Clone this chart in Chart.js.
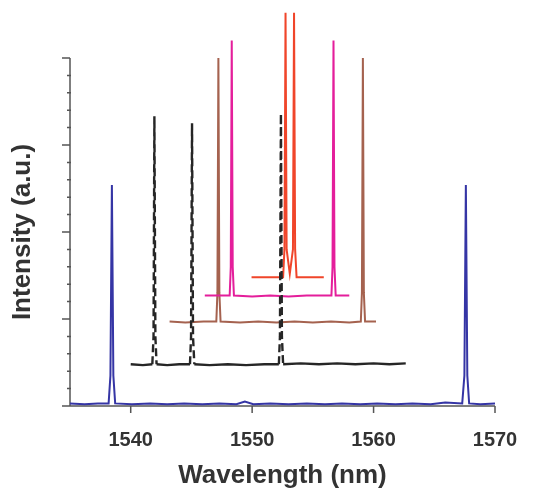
<!DOCTYPE html>
<html>
<head>
<meta charset="utf-8">
<script src="https://cdn.jsdelivr.net/npm/chart.js@4/dist/chart.umd.min.js"></script>
<style>
  html, body { margin: 0; padding: 0; background: #fff; }
  #wrap { width: 534px; height: 497px; }
</style>
</head>
<body>
<div id="wrap"><canvas id="c" width="534" height="497"></canvas></div>
<script>
// tick labels
const xTicks = [1540, 1550, 1560, 1570];
const yMajor = [0, 1, 2, 3, 4];

// blue trace (bottom)
const blueWl = [1535, 1536.2, 1537.3, 1538.18, 1538.33, 1538.45, 1538.57, 1538.72, 1540.1, 1541.6, 1543.0, 1544.4, 1545.9, 1547.3, 1548.7, 1549.4, 1550.1, 1551.5, 1553.0, 1554.5, 1556.0, 1557.4, 1558.9, 1560.3, 1561.8, 1563.2, 1564.7, 1565.9, 1567.3, 1567.48, 1567.6, 1567.72, 1567.87, 1568.8, 1570];
const blueInt = [0.03, 0.02, 0.03, 0.03, 0.35, 2.54, 0.35, 0.03, 0.02, 0.03, 0.02, 0.03, 0.02, 0.03, 0.02, 0.05, 0.02, 0.03, 0.02, 0.03, 0.02, 0.03, 0.02, 0.03, 0.02, 0.03, 0.02, 0.04, 0.03, 0.35, 2.54, 0.35, 0.03, 0.02, 0.03];

// black trace (dashed peaks)
const blackWl = [1540.0, 1541.0, 1541.78, 1541.88, 1541.95, 1542.03, 1542.13, 1543.0, 1544.0, 1544.88, 1544.97, 1545.05, 1545.13, 1545.24, 1546.5, 1548.0, 1549.5, 1551.0, 1552.2, 1552.29, 1552.37, 1552.45, 1552.55, 1554.0, 1555.5, 1557.0, 1558.5, 1560.0, 1561.3, 1562.65];
const blackInt = [0.48, 0.47, 0.48, 0.8, 3.33, 0.8, 0.48, 0.47, 0.48, 0.48, 0.8, 3.25, 0.8, 0.48, 0.47, 0.48, 0.47, 0.48, 0.48, 0.8, 3.36, 0.8, 0.48, 0.49, 0.48, 0.49, 0.48, 0.49, 0.48, 0.49];

// brown trace
const brownWl = [1543.2, 1544.5, 1546.0, 1547.05, 1547.14, 1547.22, 1547.3, 1547.4, 1549.0, 1550.5, 1552.0, 1553.5, 1555.0, 1556.5, 1558.0, 1558.95, 1559.04, 1559.12, 1559.2, 1559.3, 1560.2];
const brownInt = [0.97, 0.96, 0.97, 0.97, 1.3, 4.0, 1.3, 0.97, 0.96, 0.97, 0.96, 0.97, 0.96, 0.97, 0.96, 0.97, 1.3, 4.0, 1.3, 0.97, 0.97];

// magenta trace
const magWl = [1546.1, 1547.2, 1548.15, 1548.24, 1548.32, 1548.4, 1548.5, 1550.0, 1551.5, 1553.0, 1554.5, 1556.0, 1556.53, 1556.62, 1556.7, 1556.78, 1556.88, 1558.0];
const magInt = [1.27, 1.27, 1.27, 1.6, 4.2, 1.6, 1.27, 1.26, 1.27, 1.26, 1.27, 1.27, 1.27, 1.6, 4.2, 1.6, 1.27, 1.27];

// red trace
const redWl = [1549.95, 1551.2, 1552.55, 1552.66, 1552.75, 1552.84, 1553.1, 1553.36, 1553.45, 1553.54, 1553.66, 1554.8, 1555.9];
const redInt = [1.48, 1.48, 1.48, 1.8, 4.52, 1.8, 1.52, 1.8, 4.52, 1.8, 1.48, 1.48, 1.48];

const toPts = (xs, ys) => xs.map((v, i) => ({ x: v, y: ys[i] }));

const axesPlugin = {
  id: 'axesLines',
  beforeDatasetsDraw(chart) {
    const { ctx, scales: { x, y } } = chart;
    const y0 = y.getPixelForValue(yMajor[0]);
    const yTop = y.getPixelForValue(yMajor[yMajor.length - 1]);
    ctx.save();
    ctx.strokeStyle = '#555';
    ctx.lineWidth = 1.5;
    ctx.beginPath();
    ctx.moveTo(x.left, yTop);
    ctx.lineTo(x.left, y0);
    ctx.lineTo(x.getPixelForValue(1570), y0);
    // y ticks: major outward, minor short
    for (let i = 0; i < yMajor.length; i++) {
      const py = y.getPixelForValue(yMajor[i]);
      ctx.moveTo(x.left - 8, py);
      ctx.lineTo(x.left, py);
      if (i < yMajor.length - 1) {
        for (let k = 1; k < 5; k++) {
          const pm = y.getPixelForValue(yMajor[i] + k * 0.2);
          ctx.moveTo(x.left - 3, pm);
          ctx.lineTo(x.left + 1, pm);
        }
      }
    }
    // x ticks downward
    xTicks.forEach(v => {
      const px = x.getPixelForValue(v);
      ctx.moveTo(px, y0);
      ctx.lineTo(px, y0 + 7);
    });
    ctx.stroke();
    ctx.restore();
  }
};

const steepDash = ctx => Math.abs(ctx.p1.parsed.y - ctx.p0.parsed.y) > 0.2 ? [8, 4] : undefined;

new Chart(document.getElementById('c'), {
  type: 'line',
  data: {
    datasets: [
      { label: 'black', data: toPts(blackWl, blackInt), borderColor: '#262626', borderWidth: 2.4, order: 0,
        segment: { borderDash: steepDash } },
      { label: 'red', data: toPts(redWl, redInt), borderColor: '#f0452a', borderWidth: 2, order: 1 },
      { label: 'magenta', data: toPts(magWl, magInt), borderColor: '#e41e9b', borderWidth: 2, order: 2 },
      { label: 'brown', data: toPts(brownWl, brownInt), borderColor: '#a5624f', borderWidth: 2, order: 3 },
      { label: 'blue', data: toPts(blueWl, blueInt), borderColor: '#3535a5', borderWidth: 2, order: 4 }
    ]
  },
  options: {
    responsive: false,
    animation: false,
    layout: { padding: { top: 58, right: 39, left: 0, bottom: 0 } },
    elements: { point: { radius: 0 }, line: { tension: 0, borderCapStyle: 'butt' } },
    datasets: { line: { clip: { left: 0, top: 50, right: 0, bottom: 0 } } },
    plugins: { legend: { display: false }, tooltip: { enabled: false } },
    scales: {
      x: {
        type: 'linear',
        min: 1535,
        max: 1570,
        afterBuildTicks: s => { s.ticks = xTicks.map(v => ({ value: v })); },
        afterFit: s => { s.height = 91; s.paddingLeft = 0; s.paddingRight = 0; },
        grid: { display: false, drawTicks: false },
        border: { display: false },
        ticks: {
          padding: 22,
          color: '#333',
          maxRotation: 0,
          callback: v => String(v),
          font: { family: 'Liberation Sans, Arial, sans-serif', size: 20, weight: 'bold' }
        },
        title: {
          display: true,
          text: 'Wavelength (nm)',
          color: '#333',
          padding: { top: 0, bottom: 6 },
          font: { family: 'Liberation Sans, Arial, sans-serif', size: 26, weight: 'bold' }
        }
      },
      y: {
        type: 'linear',
        min: 0,
        max: 4,
        afterFit: s => { s.width = 70; s.paddingTop = 0; s.paddingBottom = 0; },
        grid: { display: false, drawTicks: false },
        border: { display: false },
        ticks: { display: false },
        title: {
          display: true,
          text: 'Intensity (a.u.)',
          color: '#333',
          padding: { top: 7, bottom: 0 },
          font: { family: 'Liberation Sans, Arial, sans-serif', size: 26, weight: 'bold' }
        }
      }
    }
  },
  plugins: [axesPlugin]
});
</script>
</body>
</html>
